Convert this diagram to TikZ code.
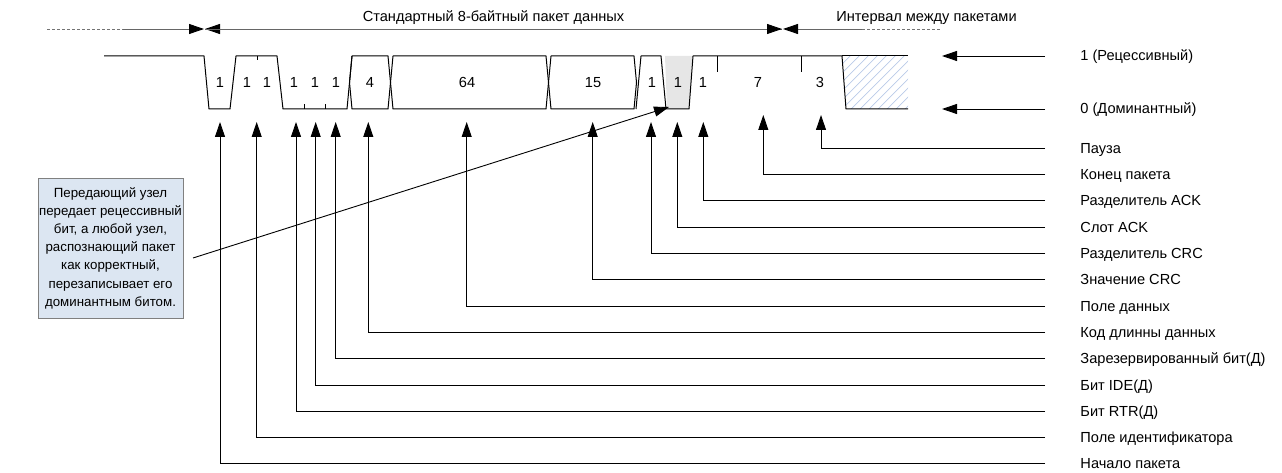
\documentclass[tikz,border=0pt]{standalone}
\usepackage{fontspec}
\setmainfont{Liberation Sans}
\usetikzlibrary{arrows.meta}
\definecolor{boxfill}{RGB}{220,230,242}
\definecolor{boxdraw}{RGB}{128,128,128}
\definecolor{slotgray}{RGB}{230,230,230}
\definecolor{hatchc}{RGB}{185,202,232}
\begin{document}
\begin{tikzpicture}[x=1pt,y=-1pt,
  font=\fontsize{14.6}{18}\selectfont,
  line width=0.9pt,
  tip/.style={-{Triangle[length=15pt,width=10pt]}},
  dimtip/.style={draw=black!60,-{Triangle[length=15pt,width=10pt,color=black]}},
  dimdash/.style={draw=black!55,dash pattern=on 3pt off 2pt},
  lbl/.style={anchor=base west,inner sep=0pt},
  bit/.style={anchor=base,inner sep=0pt},
  sig/.style={line width=1pt,line join=round},
  hatchline/.style={hatchc,line width=0.7pt}]
\useasboundingbox (0,0) rectangle (1282,473);

% ---- top dimension arrows
\coordinate (d0) at (47,29);
\coordinate (d1) at (123,29);
\coordinate (d2) at (204,29);
\coordinate (d3) at (205,29);
\coordinate (d4) at (782,29);
\coordinate (d5) at (783,29);
\coordinate (d6) at (862,29);
\coordinate (d7) at (940,29);
\draw[dimdash] (d0) -- (d1);
\draw[dimtip] (d1) -- (d2);
\draw[dimtip] (d4) -- (d3);
\draw[dimtip] (d3) -- (d4);
\draw[dimtip] (d6) -- (d5);
\draw[dimdash] (d6) -- (d7);
\node[bit] (hdr1) at (493.5,21.5) {Стандартный 8-байтный пакет данных};
\node[bit] (hdr2) at (926.5,21.5) {Интервал между пакетами};

% ---- slot gray and hatched interframe
\fill[slotgray] (665,56) -- (667,109) -- (689,109) -- (692.5,56) -- cycle;
\begin{scope}
  \clip (842,56) -- (846,109) -- (908,109) -- (908,56) -- cycle;
  \foreach \i in {770,779,...,920} \draw[hatchline] (\i,109) -- ++(56,-56);
\end{scope}

% ---- waveform
\draw[sig] (104,56) -- (204,56) -- (209,109) -- (230,109) -- (236,56) -- (277,56)
  -- (283,109) -- (347,109) -- (352,56);
\draw[sig] (352,56) -- (388,56) -- (390.5,82.5) -- (388,109) -- (352,109) -- (349.5,82.5) -- cycle;
\draw[sig] (393,56) -- (546,56) -- (548.5,82.5) -- (546,109) -- (393,109) -- (390.5,82.5) -- cycle;
\draw[sig] (551,56) -- (634,56) -- (636.5,82.5) -- (634,109) -- (551,109) -- (548.5,82.5) -- cycle;
\draw[sig] (636,109) -- (641,56) -- (661,56) -- (666,109) -- (689,109) -- (693,56)
  -- (842,56) -- (846,109) -- (908,109);
\draw[sig] (842,56) -- (908,56);
% ticks
\draw (257,56) -- (257,60);
\draw (304,109) -- (304,104);
\draw (325,109) -- (325,104);
\draw (717,56) -- (717,72);
\draw (801,56) -- (801,72);

% bit counts
\foreach \n/\x/\t in {b1/220/1,b2/247/1,b3/267/1,b4/294/1,b5/315/1,b6/336/1,b7/370/4,
  b8/467/64,b9/593/15,b10/652/1,b11/678/1,b12/703/1,b13/758/7,b14/820/3}
  \node[bit] (\n) at (\x,88) {\t};

% ---- level legend
\coordinate (r1) at (1045,56);
\coordinate (r1t) at (942,56);
\coordinate (r0) at (1045,109);
\coordinate (r0t) at (942,109);
\draw[tip] (r1) -- (r1t);
\draw[tip] (r0) -- (r0t);
\node[lbl] (lv1) at (1080,61) {1 (Рецессивный)};
\node[lbl] (lv0) at (1080,114) {0 (Доминантный)};

% ---- field labels with arrows
\foreach \k/\x/\t/\txt in {
  0/821/115/{Пауза},
  1/763.3/115/{Конец пакета},
  2/703.3/122/{Разделитель ACK},
  3/677.3/122/{Слот ACK},
  4/651/122/{Разделитель CRC},
  5/592.7/122/{Значение CRC},
  6/466.7/122/{Поле данных},
  7/368.3/122/{Код длинны данных},
  8/335.7/122/{Зарезервированный бит(Д)},
  9/315.7/122/{Бит IDE(Д)},
  10/296/122/{Бит RTR(Д)},
  11/256.7/122/{Поле идентификатора},
  12/220/122/{Начало пакета}}
{
  \node[lbl] (l\k) at (1080,{148.3+26.3*\k+5}) {\txt};
  \coordinate (e\k) at (1045,{148.3+26.3*\k});
  \coordinate (t\k) at (\x,\t);
  \draw[tip] (e\k) -| (t\k);
}

% ---- callout
\node[draw=boxdraw,fill=boxfill,line width=0.8pt,align=center,
  font=\fontsize{13.3}{18.2}\selectfont,
  minimum width=145pt,minimum height=140pt,inner sep=0pt] (note) at (110.5,248)
  {Передающий узел\\передает рецессивный\\бит, а любой узел,\\распознающий пакет\\как корректный,\\перезаписывает его\\доминантным битом.};
\coordinate (cs) at (193,258);
\coordinate (ct) at (669,107);
\draw[tip] (cs) -- (ct);
\end{tikzpicture}
\end{document}
